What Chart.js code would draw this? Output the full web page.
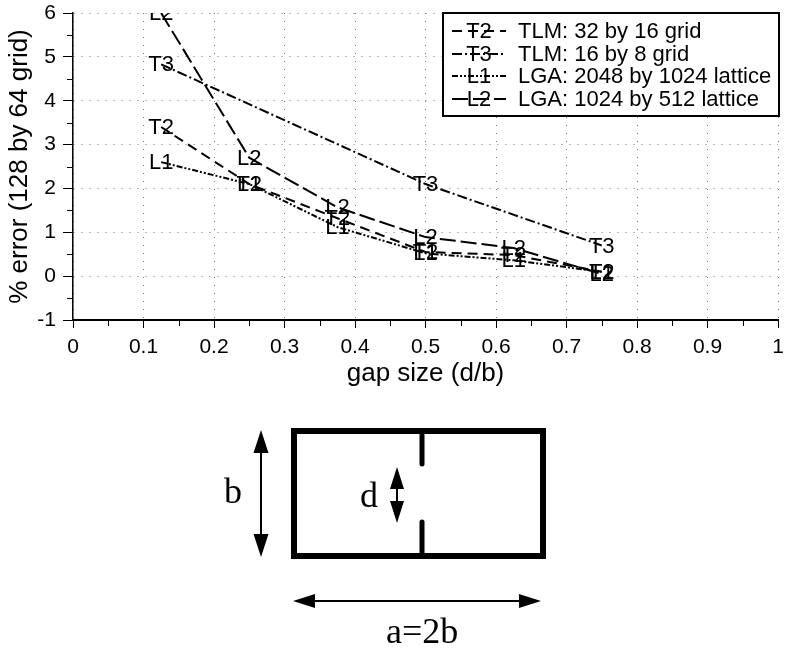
<!DOCTYPE html>
<html>
<head>
<meta charset="utf-8">
<title>gap size error</title>
<script src="https://cdn.jsdelivr.net/npm/chart.js"></script>
<style>
  html, body { margin: 0; padding: 0; background: #fff; }
  #wrap { position: relative; width: 785px; height: 650px; overflow: hidden; }
  #errorChart { position: absolute; left: 0; top: 0; }
  #schematic { position: absolute; left: 0; top: 0; }
  #schematic text { font-family: "Liberation Serif", serif; font-size: 36px; fill: #000; }
</style>
</head>
<body>
<div id="wrap">
  <canvas id="errorChart" width="785" height="400"></canvas>
  <svg id="schematic" width="785" height="650">
    <!-- channel with the gap -->
    <rect x="294" y="431" width="249" height="125" fill="none" stroke="#000" stroke-width="6"/>
    <line x1="422" y1="431" x2="422" y2="464" stroke="#000" stroke-width="5" stroke-linecap="round"/>
    <line x1="422" y1="522" x2="422" y2="556" stroke="#000" stroke-width="5" stroke-linecap="round"/>
    <!-- b arrow -->
    <line x1="261" y1="445" x2="261" y2="542" stroke="#000" stroke-width="2"/>
    <path d="M261 430 L268.5 453 L253.5 453 Z M261 557 L268.5 534 L253.5 534 Z" fill="#000"/>
    <!-- d arrow -->
    <line x1="397" y1="480" x2="397" y2="510" stroke="#000" stroke-width="2"/>
    <path d="M397 467 L404 489 L390 489 Z M397 523 L404 501 L390 501 Z" fill="#000"/>
    <!-- a arrow -->
    <line x1="308" y1="601" x2="526" y2="601" stroke="#000" stroke-width="2"/>
    <path d="M293 601 L315 594 L315 608 Z M541 601 L519 594 L519 608 Z" fill="#000"/>
    <text x="224" y="503">b</text>
    <text x="360" y="507">d</text>
    <text x="386" y="643">a=2b</text>
  </svg>
</div>

<script>
// values
const gapSizes = [0.125, 0.25, 0.375, 0.5, 0.625, 0.75];
const t3GapSizes = [0.125, 0.5, 0.75];
const t2Errors = [3.4, 2.1, 1.32, 0.55, 0.48, 0.1];
const t3Errors = [4.83, 2.1, 0.7];
const l1Errors = [2.6, 2.1, 1.12, 0.52, 0.36, 0.1];
const l2Errors = [6.0, 2.7, 1.57, 0.89, 0.64, 0.05];

const seriesTags = ['T2', 'T3', 'L1', 'L2'];
const seriesNames = [
    'TLM: 32 by 16 grid',
    'TLM: 16 by 8 grid',
    'LGA: 2048 by 1024 lattice',
    'LGA: 1024 by 512 lattice'
];

const xTickValues = [0, 0.1, 0.2, 0.3, 0.4, 0.5, 0.6, 0.7, 0.8, 0.9, 1];
const yTickValues = [-1, 0, 1, 2, 3, 4, 5, 6];

const SANS = '"Liberation Sans", Arial, sans-serif';

function toPoints(xs, ys) {
    return xs.map((x, i) => ({ x: x, y: ys[i] }));
}

function makeSeries(i, xs, ys, dash) {
    return {
        label: seriesNames[i],
        tag: seriesTags[i],
        data: toPoints(xs, ys),
        borderColor: '#000',
        borderWidth: 2,
        borderDash: dash,
        pointRadius: 0,
        tension: 0,
        fill: false
    };
}

// T2 / T3 / L1 / L2 tags on top of the points, clipped to the plot
const tagPlugin = {
    id: 'tags',
    afterDatasetsDraw(chart) {
        const { ctx, chartArea } = chart;
        ctx.save();
        ctx.beginPath();
        ctx.rect(chartArea.left, chartArea.top, chartArea.right - chartArea.left, chartArea.bottom - chartArea.top);
        ctx.clip();
        ctx.font = '22px ' + SANS;
        ctx.fillStyle = '#000';
        ctx.textAlign = 'center';
        ctx.textBaseline = 'middle';
        chart.data.datasets.forEach((ds, i) => {
            chart.getDatasetMeta(i).data.forEach((pt) => ctx.fillText(ds.tag, pt.x, pt.y + 1));
        });
        ctx.restore();
    }
};

// short ticks half way between the labelled ones
const minorTickPlugin = {
    id: 'minorTicks',
    afterDraw(chart) {
        const { ctx, scales } = chart;
        ctx.save();
        ctx.strokeStyle = '#000';
        ctx.lineWidth = 1;
        ctx.beginPath();
        for (let i = 0; i < xTickValues.length - 1; i++) {
            const px = Math.round(scales.x.getPixelForValue((xTickValues[i] + xTickValues[i + 1]) / 2)) + 0.5;
            ctx.moveTo(px, scales.x.top);
            ctx.lineTo(px, scales.x.top + 6);
        }
        for (let i = 0; i < yTickValues.length - 1; i++) {
            const py = Math.round(scales.y.getPixelForValue((yTickValues[i] + yTickValues[i + 1]) / 2)) + 0.5;
            ctx.moveTo(scales.y.right, py);
            ctx.lineTo(scales.y.right - 6, py);
        }
        ctx.stroke();
        ctx.restore();
    }
};

// boxed legend in the top right corner
const legendBoxPlugin = {
    id: 'legendBox',
    afterDraw(chart) {
        const ctx = chart.ctx;
        const rowY = [31, 54, 76, 99];
        ctx.save();
        ctx.fillStyle = '#fff';
        ctx.fillRect(443, 13, 336, 103);
        ctx.strokeStyle = '#000';
        ctx.lineWidth = 2;
        ctx.strokeRect(443, 13, 336, 103);
        chart.data.datasets.forEach((ds, i) => {
            const y = rowY[i];
            ctx.lineWidth = 2;
            ctx.setLineDash(ds.borderDash);
            ctx.beginPath();
            ctx.moveTo(452, y);
            ctx.lineTo(506, y);
            ctx.stroke();
            ctx.setLineDash([]);
            ctx.fillStyle = '#000';
            ctx.font = '22px ' + SANS;
            ctx.textBaseline = 'middle';
            ctx.textAlign = 'center';
            ctx.fillText(ds.tag, 479, y + 1);
            ctx.textAlign = 'left';
            ctx.fillText(ds.label, 518, y + 1);
        });
        ctx.restore();
    }
};

new Chart(document.getElementById('errorChart'), {
    type: 'line',
    data: {
        datasets: [
            makeSeries(0, gapSizes, t2Errors, [10, 6]),
            makeSeries(1, t3GapSizes, t3Errors, [10, 3, 2, 3]),
            makeSeries(2, gapSizes, l1Errors, [6, 2, 2, 2, 2, 2]),
            makeSeries(3, gapSizes, l2Errors, [16, 5])
        ]
    },
    options: {
        responsive: false,
        animation: false,
        layout: { padding: { top: 13, right: 7, bottom: 0, left: 0 } },
        plugins: {
            legend: { display: false },
            tooltip: { enabled: false }
        },
        scales: {
            x: {
                type: 'linear',
                min: 0,
                max: 1,
                afterBuildTicks: (axis) => { axis.ticks = xTickValues.map((v) => ({ value: v })); },
                afterFit: (axis) => {
                    axis.height = 80;
                    axis.paddingLeft = 0;
                    axis.paddingRight = 0;
                },
                ticks: {
                    color: '#000',
                    font: { family: SANS, size: 21 },
                    padding: 7,
                    maxRotation: 0,
                    autoSkip: false,
                    callback: (v) => String(v)
                },
                grid: { color: '#777', lineWidth: 1, tickColor: '#000', tickLength: 8, tickWidth: 1 },
                border: { color: '#000', width: 2, dash: [1, 7] },
                title: {
                    display: true,
                    text: 'gap size (d/b)',
                    color: '#000',
                    font: { family: SANS, size: 26 },
                    padding: { top: 0, bottom: 11 }
                }
            },
            y: {
                type: 'linear',
                min: -1,
                max: 6,
                afterBuildTicks: (axis) => { axis.ticks = yTickValues.map((v) => ({ value: v })); },
                afterFit: (axis) => {
                    axis.width = 73;
                    axis.paddingTop = 0;
                    axis.paddingBottom = 0;
                },
                ticks: {
                    color: '#000',
                    font: { family: SANS, size: 21 },
                    padding: 7,
                    autoSkip: false,
                    callback: (v) => String(v)
                },
                grid: { color: '#777', lineWidth: 1, tickColor: '#000', tickLength: 10, tickWidth: 1 },
                border: { color: '#000', width: 1.5, dash: [1, 7] },
                title: {
                    display: true,
                    text: '% error (128 by 64 grid)',
                    color: '#000',
                    font: { family: SANS, size: 26 },
                    padding: { top: 4, bottom: 0 }
                }
            }
        }
    },
    plugins: [tagPlugin, minorTickPlugin, legendBoxPlugin]
});
</script>
</body>
</html>
